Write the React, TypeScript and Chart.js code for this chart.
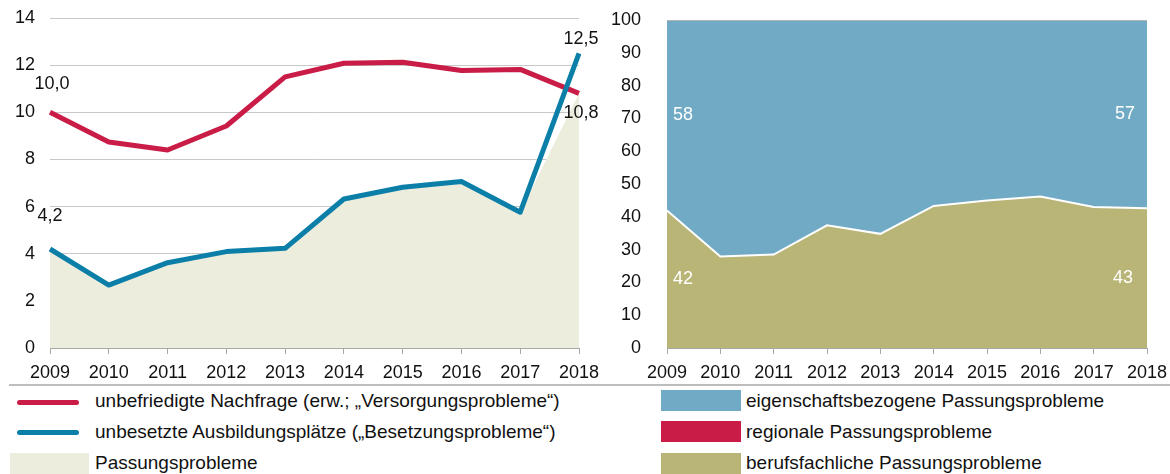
import React, { useEffect, useRef } from "react";
import { Chart, registerables } from "chart.js";

Chart.register(...registerables);

const years = ["2009", "2010", "2011", "2012", "2013", "2014", "2015", "2016", "2017", "2018"];

// Left chart (values)
const nachfrage = [10.0, 8.74, 8.4, 9.42, 11.5, 12.08, 12.12, 11.77, 11.82, 10.8];
const besetzung = [4.2, 2.67, 3.62, 4.09, 4.23, 6.32, 6.82, 7.06, 5.76, 12.5];
const passung = [4.2, 2.67, 3.62, 4.09, 4.23, 6.32, 6.82, 7.06, 5.76, 10.8];
const leftTicks = [0, 2, 4, 6, 8, 10, 12, 14];

// Right chart (shares, percent)
const berufsfachlich = [41.9, 27.9, 28.5, 37.4, 34.8, 43.3, 45.0, 46.2, 43.0, 42.6];
const regional = [0, 0, 0, 0, 0, 0, 0, 0, 0, 0];
const eigenschaft = [58.1, 72.1, 71.5, 62.6, 65.2, 56.7, 55.0, 53.8, 57.0, 57.4];
const rightTicks = [0, 10, 20, 30, 40, 50, 60, 70, 80, 90, 100];

const RED = "#C91C47";
const BLUE_LINE = "#0B7FA8";
const BEIGE = "#EDEDDD";
const BLUE_AREA = "#70AAC5";
const OLIVE = "#B8B576";
const FONT = "'Liberation Sans', Arial, sans-serif";
const TICK_SIZE = 18;

const fmt = (v: number) => v.toFixed(1).replace(".", ",");

const noOverflow = (s: any) => {
  s.paddingTop = 0;
  s.paddingBottom = 0;
  s.paddingLeft = 0;
  s.paddingRight = 0;
};

function LeftChart() {
  const ref = useRef<HTMLCanvasElement>(null);
  useEffect(() => {
    const labelPlugin = {
      id: "leftLabels",
      afterDatasetsDraw(chart: any) {
        const { ctx } = chart;
        const x = chart.scales.x;
        const y = chart.scales.y;
        ctx.save();
        ctx.font = `${TICK_SIZE}px ${FONT}`;
        ctx.fillStyle = "#111";
        ctx.textAlign = "center";
        ctx.textBaseline = "middle";
        const last = years.length - 1;
        ctx.fillText(fmt(nachfrage[0]), x.getPixelForValue(0) + 2, y.getPixelForValue(nachfrage[0]) - 28);
        ctx.fillText(fmt(besetzung[0]), x.getPixelForValue(0), y.getPixelForValue(besetzung[0]) - 33);
        ctx.fillText(fmt(besetzung[last]), x.getPixelForValue(last) + 2, y.getPixelForValue(besetzung[last]) - 14);
        ctx.fillText(fmt(nachfrage[last]), x.getPixelForValue(last) + 2, y.getPixelForValue(nachfrage[last]) + 20);
        ctx.restore();
      },
    };
    const chart = new Chart(ref.current!, {
      type: "line",
      data: {
        labels: years,
        datasets: [
          {
            label: "unbesetzte Ausbildungsplätze",
            data: besetzung,
            borderColor: BLUE_LINE,
            borderWidth: 5,
            pointRadius: 0,
            fill: false,
            order: 0,
            borderJoinStyle: "round",
          },
          {
            label: "unbefriedigte Nachfrage",
            data: nachfrage,
            borderColor: RED,
            borderWidth: 5,
            pointRadius: 0,
            fill: false,
            order: 1,
            borderJoinStyle: "round",
          },
          {
            label: "Passungsprobleme",
            data: passung,
            borderWidth: 0,
            borderColor: "transparent",
            backgroundColor: BEIGE,
            pointRadius: 0,
            fill: "origin",
            order: 2,
          },
        ],
      },
      options: {
        animation: false,
        responsive: false,
        layout: { padding: { left: 0, right: 21, top: 18, bottom: 0 } },
        plugins: { legend: { display: false }, tooltip: { enabled: false } },
        scales: {
          x: {
            z: 1,
            grid: { drawOnChartArea: false, color: "#a8a8a8", tickLength: 6 },
            border: { color: "#a8a8a8", width: 1 },
            ticks: { color: "#111", font: { family: FONT, size: TICK_SIZE }, padding: 8, maxRotation: 0 },
            afterFit: (s: any) => { s.height = 37; noOverflow(s); },
          },
          y: {
            min: 0,
            max: 14,
            afterBuildTicks: (s: any) => { s.ticks = leftTicks.map((v) => ({ value: v })); },
            grid: { color: "#c8c8c8", drawTicks: false, lineWidth: 1 },
            border: { display: false },
            ticks: { color: "#111", font: { family: FONT, size: TICK_SIZE }, padding: 15 },
            afterFit: (s: any) => { s.width = 50; noOverflow(s); },
          },
        },
      },
      plugins: [labelPlugin],
    });
    return () => chart.destroy();
  }, []);
  return (
    <canvas
      ref={ref}
      width={600}
      height={385}
      style={{ position: "absolute", left: 0, top: 0, width: 600, height: 385 }}
    />
  );
}

function RightChart() {
  const ref = useRef<HTMLCanvasElement>(null);
  useEffect(() => {
    const labelPlugin = {
      id: "rightLabels",
      afterDatasetsDraw(chart: any) {
        const { ctx } = chart;
        const x = chart.scales.x;
        const y = chart.scales.y;
        const last = years.length - 1;
        ctx.save();
        ctx.font = `${TICK_SIZE}px ${FONT}`;
        ctx.fillStyle = "#ffffff";
        ctx.textBaseline = "middle";
        const mid = (lo: number, hi: number) => y.getPixelForValue((lo + hi) / 2);
        ctx.textAlign = "left";
        ctx.fillText(String(Math.round(eigenschaft[0])), x.getPixelForValue(0) + 6,
          mid(berufsfachlich[0] + regional[0], berufsfachlich[0] + regional[0] + eigenschaft[0]));
        ctx.fillText(String(Math.round(berufsfachlich[0])), x.getPixelForValue(0) + 6, mid(0, berufsfachlich[0]));
        ctx.textAlign = "right";
        ctx.fillText(String(Math.round(eigenschaft[last])), x.getPixelForValue(last) - 12,
          mid(berufsfachlich[last] + regional[last], berufsfachlich[last] + regional[last] + eigenschaft[last]));
        ctx.fillText(String(Math.round(berufsfachlich[last])), x.getPixelForValue(last) - 14, mid(0, berufsfachlich[last]));
        ctx.restore();
      },
    };
    const chart = new Chart(ref.current!, {
      type: "line",
      data: {
        labels: years,
        datasets: [
          {
            label: "berufsfachliche Passungsprobleme",
            data: berufsfachlich,
            backgroundColor: OLIVE,
            borderColor: "#ffffff",
            borderWidth: 2,
            pointRadius: 0,
            fill: "origin",
          },
          {
            label: "regionale Passungsprobleme",
            data: regional,
            backgroundColor: RED,
            borderColor: "transparent",
            borderWidth: 0,
            pointRadius: 0,
            fill: "-1",
          },
          {
            label: "eigenschaftsbezogene Passungsprobleme",
            data: eigenschaft,
            backgroundColor: BLUE_AREA,
            borderColor: "#b4b4b4",
            borderWidth: 2,
            pointRadius: 0,
            fill: "-1",
          },
        ],
      },
      options: {
        animation: false,
        responsive: false,
        layout: { padding: { left: 0, right: 23, top: 20, bottom: 0 } },
        plugins: { legend: { display: false }, tooltip: { enabled: false } },
        scales: {
          x: {
            z: 1,
            grid: { drawOnChartArea: false, color: "#a8a8a8", tickLength: 6 },
            border: { color: "#a8a8a8", width: 1 },
            ticks: { color: "#111", font: { family: FONT, size: TICK_SIZE }, padding: 8, maxRotation: 0 },
            afterFit: (s: any) => { s.height = 37; noOverflow(s); },
          },
          y: {
            stacked: true,
            min: 0,
            max: 100,
            afterBuildTicks: (s: any) => { s.ticks = rightTicks.map((v) => ({ value: v })); },
            grid: { display: false },
            border: { display: false },
            ticks: { color: "#111", font: { family: FONT, size: TICK_SIZE }, padding: 18 },
            afterFit: (s: any) => { s.width = 67; noOverflow(s); },
          },
        },
      },
      plugins: [labelPlugin],
    });
    return () => chart.destroy();
  }, []);
  return (
    <canvas
      ref={ref}
      width={570}
      height={385}
      style={{ position: "absolute", left: 600, top: 0, width: 570, height: 385 }}
    />
  );
}

const textStyle: React.CSSProperties = {
  position: "absolute",
  fontFamily: FONT,
  fontSize: 19,
  color: "#111",
  whiteSpace: "nowrap",
  lineHeight: "22px",
};

export default function App() {
  return (
    <div
      style={{
        position: "absolute",
        left: 0,
        top: 0,
        width: 1170,
        height: 474,
        background: "#fff",
        overflow: "hidden",
      }}
    >
      <LeftChart />
      <RightChart />
      <div style={{ position: "absolute", left: 9, top: 384, width: 1161, height: 2, background: "#bdbdbd" }} />
      {/* left legend */}
      <div style={{ position: "absolute", left: 17, top: 400, width: 62, height: 5, borderRadius: 3, background: RED }} />
      <div style={{ ...textStyle, left: 95, top: 390 }}>unbefriedigte Nachfrage (erw.; „Versorgungsprobleme“)</div>
      <div style={{ position: "absolute", left: 17, top: 430, width: 62, height: 5, borderRadius: 3, background: BLUE_LINE }} />
      <div style={{ ...textStyle, left: 95, top: 421 }}>unbesetzte Ausbildungsplätze („Besetzungsprobleme“)</div>
      <div style={{ position: "absolute", left: 10, top: 453, width: 79, height: 21, background: BEIGE }} />
      <div style={{ ...textStyle, left: 95, top: 452 }}>Passungsprobleme</div>
      {/* right legend */}
      <div style={{ position: "absolute", left: 661, top: 390, width: 80, height: 21, background: BLUE_AREA }} />
      <div style={{ ...textStyle, left: 746, top: 390 }}>eigenschaftsbezogene Passungsprobleme</div>
      <div style={{ position: "absolute", left: 661, top: 421, width: 80, height: 21, background: RED }} />
      <div style={{ ...textStyle, left: 746, top: 421 }}>regionale Passungsprobleme</div>
      <div style={{ position: "absolute", left: 661, top: 453, width: 80, height: 21, background: OLIVE }} />
      <div style={{ ...textStyle, left: 746, top: 452 }}>berufsfachliche Passungsprobleme</div>
    </div>
  );
}
